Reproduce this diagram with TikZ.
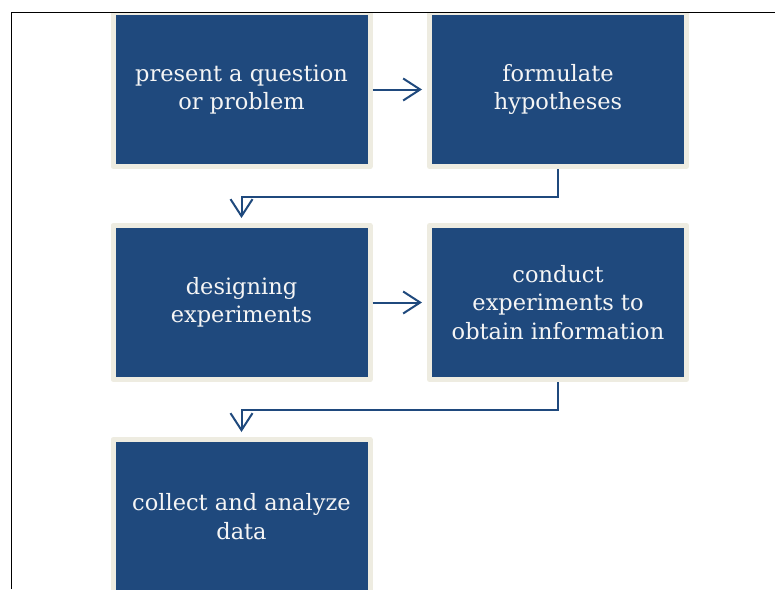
\documentclass[tikz,border=0pt]{standalone}
\usepackage{fontspec}
\setmainfont{DejaVu Serif}
\usepackage{xcolor}
\usetikzlibrary{arrows.meta}

\definecolor{stepblue}{RGB}{31,73,125}
\definecolor{stepbeige}{RGB}{238,236,225}
\definecolor{steptext}{RGB}{245,245,245}

\begin{document}
\begin{tikzpicture}[x=1pt,y=-1pt,
    stepbox/.style={fill=stepblue,draw=stepbeige,line width=5pt,line join=round,
      minimum width=257pt,minimum height=154pt,inner sep=0pt,align=center,
      text=steptext,font=\fontsize{22.5}{28.5}\selectfont},
    link/.style={draw=stepblue,line width=2pt,
      -{Straight Barb[length=17pt,width=22pt]},shorten >=5pt}]
      \useasboundingbox (0,0) rectangle (775,589);

      \draw[line width=1.8pt] (11.5,589) -- (11.5,12.5) -- (775,12.5);

      \begin{scope}
        \clip (0,13.4) rectangle (775,589);
        \node (ask) at (241.5,89.5) [stepbox] {present a question\\or problem};
        \node (hyp) at (558,89.5) [stepbox] {formulate\\hypotheses};
        \node (design) at (241.5,302.5) [stepbox] {designing\\experiments};
        \node (conduct) at (558,302.5) [stepbox] {conduct\\experiments to\\obtain information};
        \node (collect) at (241.5,516.5) [stepbox] {collect and analyze\\data};
      \end{scope}

      \draw[link] (ask) -- (hyp);
      \draw[link] (hyp.south) -- ++(0,27.5) -| (design.north);
      \draw[link] (design) -- (conduct);
      \draw[link] (conduct.south) -- ++(0,27.5) -| (collect.north);
    \end{tikzpicture}
\end{document}
